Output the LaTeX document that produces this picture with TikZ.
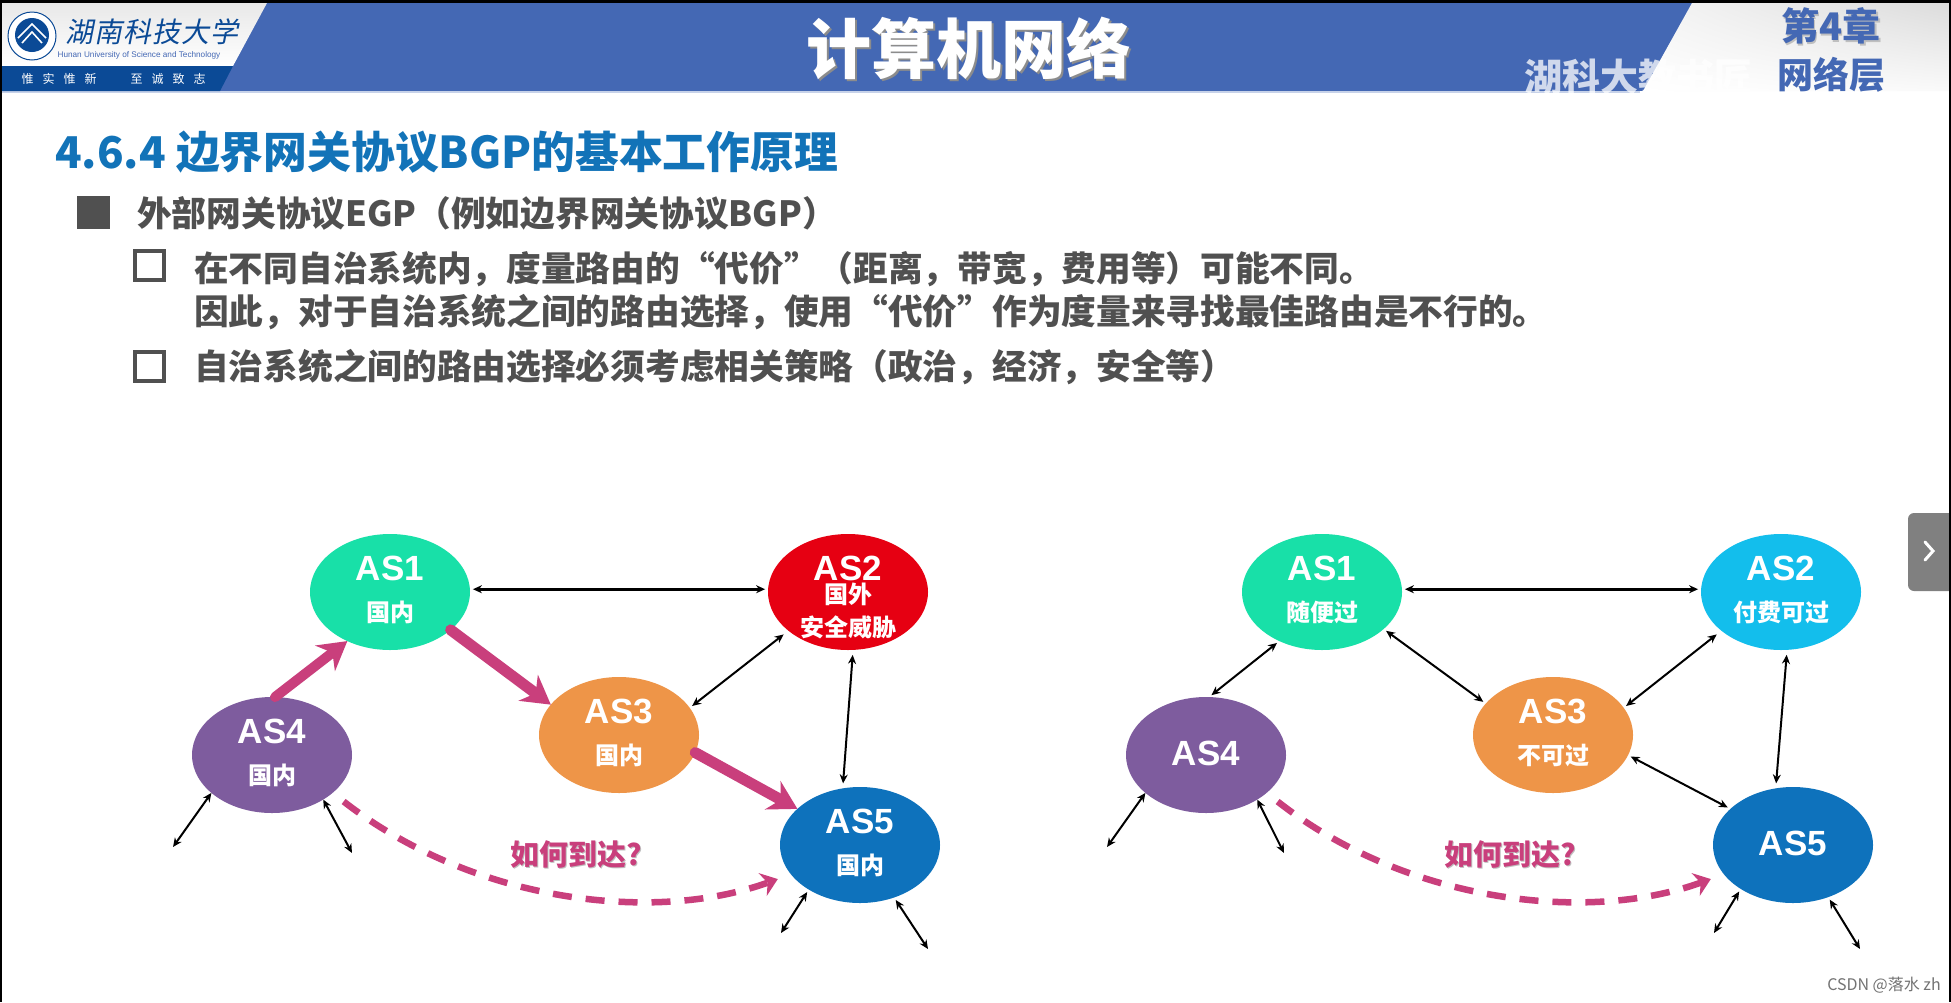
\documentclass[tikz,border=0pt]{standalone}
\usepackage{fontspec}
\usetikzlibrary{arrows.meta,shapes.geometric,shadings}
\setmainfont{Noto Sans CJK SC}
\newfontfamily\callif{Noto Sans CJK SC}[FakeSlant=0.2]
\newfontfamily\latinb{Liberation Sans}
\definecolor{barblue}{HTML}{4468B4}
\definecolor{bandblue}{HTML}{0B4A96}
\definecolor{headblue}{HTML}{1273B8}
\definecolor{bodygrey}{HTML}{505050}
\definecolor{pinkarrow}{HTML}{C93F7C}
\definecolor{asgreen}{HTML}{18E0A8}
\definecolor{asred}{HTML}{E60012}
\definecolor{ascyan}{HTML}{13BEEC}
\definecolor{asorange}{HTML}{EE9548}
\definecolor{aspurple}{HTML}{7E5C9E}
\definecolor{asblue}{HTML}{0E72BC}
\newcommand\sz[1]{\fontsize{#1}{#1}\selectfont}
\newcommand\asline[3]{\makebox[0pt]{\raisebox{#1}[0pt][0pt]{#2#3}}}
\newcommand\astop[2][12pt]{\asline{#1}{\latinb\bfseries\sz{35}}{#2}}
\newcommand\asbot[2][-29pt]{\asline{#1}{\sz{24}\bfseries}{#2}}
\newcommand\shadowed[4]{\rlap{\kern#1\raisebox{-#1}{\textcolor{#2}{#3}}}\textcolor{#4}{#3}}
\tikzset{
  asnode/.style={ellipse,minimum width=160pt,minimum height=116pt,inner sep=0pt,outer sep=0pt,text=white},
  link/.style={draw=black,line width=2pt,{Stealth[length=9pt,width=8pt]}-{Stealth[length=9pt,width=8pt]},shorten <=3pt,shorten >=3pt},
  route/.style={draw=pinkarrow,line width=11pt,line cap=round,-{Stealth[length=28pt,width=32pt]}},
  maybe/.style={draw=pinkarrow,line width=6.5pt,dash pattern=on 19pt off 14pt,-{Stealth[length=16pt,width=24pt]},shorten <=14pt,shorten >=14pt},
  asklabel/.style={font=\sz{29}\bfseries,inner sep=0pt},
  textline/.style={anchor=west,inner sep=0pt,text=bodygrey,font=\sz{34.7}\bfseries},
  openbox/.style={rectangle,draw=bodygrey,line width=4pt,minimum size=29pt,inner sep=0pt}
}
\begin{document}
\begin{tikzpicture}[x=1pt,y=-1pt]
\useasboundingbox (0,0) rectangle (1951,1002);
\fill[white] (0,0) rectangle (1951,1002);
% header
\fill[black] (0,0) rectangle (1951,3);
\fill[barblue] (2,3) rectangle (1700,91);
\fill[white!70!barblue] (2,91) rectangle (1640,92.5);
\shade[top color=black!9,bottom color=white] (2,3) -- (267,3) -- (233,66) -- (2,66) -- cycle;
\fill[bandblue] (2,66) -- (233,66) -- (220,91) -- (2,91) -- cycle;
\shade[upper left=black!4,upper right=black!14,lower left=white,lower right=black!2] (1692,3) -- (1951,3) -- (1951,91) -- (1643,91) -- cycle;
% logo
\node[circle,draw=bandblue,line width=1pt,fill=white,minimum size=48pt,inner sep=0pt] (logoring) at (32,36) {};
\node[circle,fill=bandblue,minimum size=34pt,inner sep=0pt] (logocore) at (32,35) {};
\draw[white,line width=1.6pt] (18,38) -- (32,24) -- (46,38);
\draw[white,line width=1.6pt] (22,43) -- (32,32) -- (42,43);
\node[inner sep=0pt,text=bandblue,font=\callif\sz{28}] (school) at (152,32) {湖\kern1pt 南\kern1pt 科\kern1pt 技\kern1pt 大\kern1pt 学};
\node[inner sep=0pt,text=barblue,font=\latinb\sz{8.2}] (schooleng) at (139,55) {Hunan University of Science and Technology};
\node[inner sep=0pt,text=white,font=\sz{12}] (motto1) at (59,79) {惟\kern9pt 实\kern9pt 惟\kern9pt 新};
\node[inner sep=0pt,text=white,font=\sz{12}] (motto2) at (168,79) {至\kern9pt 诚\kern9pt 致\kern9pt 志};
\node[inner sep=0pt,font=\sz{65}\bfseries] (title) at (969,49) {\shadowed{2pt}{black!45}{计算机网络}{white}};
\node[inner sep=0pt,font=\sz{38}\bfseries] (chapter) at (1831,27) {\shadowed{1.5pt}{black!25}{第4章}{barblue}};
\node[inner sep=0pt,font=\sz{36}\bfseries,text=barblue] (layer) at (1831,75) {网络层};
\node[inner sep=0pt,anchor=west,font=\sz{38}\bfseries,text=white,opacity=.75] (bili) at (1524,77) {湖科大教书匠};
% headings
\node[anchor=west,inner sep=0pt,text=headblue,font=\sz{43.8}\bfseries] (heading) at (55,152) {4.6.4 边界网关协议BGP的基本工作原理};
\node[rectangle,fill=bodygrey,minimum size=33pt,inner sep=0pt] (b1) at (93.5,212.5) {};
\node[textline] (t1) at (137,213) {外部网关协议EGP（例如边界网关协议BGP）};
\node[openbox] (b2) at (149.5,265.5) {};
\node[textline] (t2) at (194,269) {在不同自治系统内，度量路由的“代价”（距离，带宽，费用等）可能不同。};
\node[textline] (t3) at (194,312) {因此，对于自治系统之间的路由选择，使用“代价”作为度量来寻找最佳路由是不行的。};
\node[openbox] (b3) at (149.5,366.5) {};
\node[textline] (t4) at (194,367) {自治系统之间的路由选择必须考虑相关策略（政治，经济，安全等）};
% left diagram
\node[asnode,fill=asgreen] (la1) at (390,592) {\astop{AS1}\asbot{国内}};
\node[asnode,fill=asred] (la2) at (848,592) {\astop{AS2}\asline{-11pt}{\sz{24}\bfseries}{国外}\asline{-44pt}{\sz{24}\bfseries}{安全威胁}};
\node[asnode,fill=asorange] (la3) at (619,735) {\astop{AS3}\asbot{国内}};
\node[asnode,fill=aspurple] (la4) at (272,755) {\astop{AS4}\asbot{国内}};
\node[asnode,fill=asblue] (la5) at (860,845) {\astop{AS5}\asbot{国内}};
\coordinate (la4l) at (173,847);
\coordinate (la4r) at (352,853);
\coordinate (la5l) at (781,933);
\coordinate (la5r) at (928,949);
\draw[link,line width=2.6pt] (la1.2) -- (la2.178);
\draw[link,shorten <=6pt] (la2.213) -- (la3.21);
\draw[link,shorten <=5pt,shorten >=5pt] (la2.275) -- (la5.107);
\draw[link,shorten <=0pt,shorten >=0pt] (la4.212) -- (la4l);
\draw[link,shorten <=0pt,shorten >=0pt] (la4.319) -- (la4r);
\draw[link,shorten >=0pt] (la5.221) -- (la5l);
\draw[link,shorten >=0pt] (la5.303) -- (la5r);
\draw[route,line width=10pt] (la4.87) -- (la1.229);
\draw[route] (la1.328) -- (la3.156);
\draw[route] (la3.347) -- (la5.150);
\draw[maybe] (la4.328) .. controls (470,900) and (650,925) .. (la5.203);
\node[asklabel] (lask) at (576,855) {\shadowed{1.5pt}{black!25}{如何到达?}{pinkarrow}};
% right diagram
\node[asnode,fill=asgreen] (ra1) at (1322,592) {\astop{AS1}\asbot{随便过}};
\node[asnode,fill=ascyan] (ra2) at (1781,592) {\astop{AS2}\asbot{付费可过}};
\node[asnode,fill=asorange] (ra3) at (1553,735) {\astop{AS3}\asbot{不可过}};
\node[asnode,fill=aspurple] (ra4) at (1206,755) {\astop[-10pt]{AS4}};
\node[asnode,fill=asblue] (ra5) at (1793,845) {\astop[-10pt]{AS5}};
\coordinate (ra4l) at (1107,847);
\coordinate (ra4r) at (1284,853);
\coordinate (ra5l) at (1714,933);
\coordinate (ra5r) at (1860,949);
\draw[link,line width=2.6pt] (ra1.2) -- (ra2.178);
\draw[link] (ra1.229) -- (ra4.87);
\draw[link] (ra1.329) -- (ra3.155);
\draw[link,shorten <=6pt] (ra2.213) -- (ra3.21);
\draw[link,shorten <=5pt,shorten >=5pt] (ra2.276) -- (ra5.107);
\draw[link] (ra3.345) -- (ra5.150);
\draw[link,shorten <=0pt,shorten >=0pt] (ra4.212) -- (ra4l);
\draw[link,shorten <=0pt,shorten >=0pt] (ra4.319) -- (ra4r);
\draw[link,shorten >=0pt] (ra5.220) -- (ra5l);
\draw[link,shorten >=0pt] (ra5.304) -- (ra5r);
\draw[maybe] (ra4.328) .. controls (1403,900) and (1583,925) .. (ra5.203);
\node[asklabel] (rask) at (1510,855) {\shadowed{1.5pt}{black!25}{如何到达?}{pinkarrow}};
% page furniture
\fill[black!50,rounded corners=6pt] (1908,513) rectangle (1965,591);
\draw[white,line width=3pt,line cap=round] (1925,542) -- (1933,551) -- (1925,560);
\node[inner sep=0pt,text=black!55,font=\sz{16}] (csdn) at (1884,985) {CSDN @落水 zh};
\fill[black] (0,0) rectangle (1.8,1002);
\fill[black] (1949,0) rectangle (1951,1002);
\end{tikzpicture}
\end{document}
